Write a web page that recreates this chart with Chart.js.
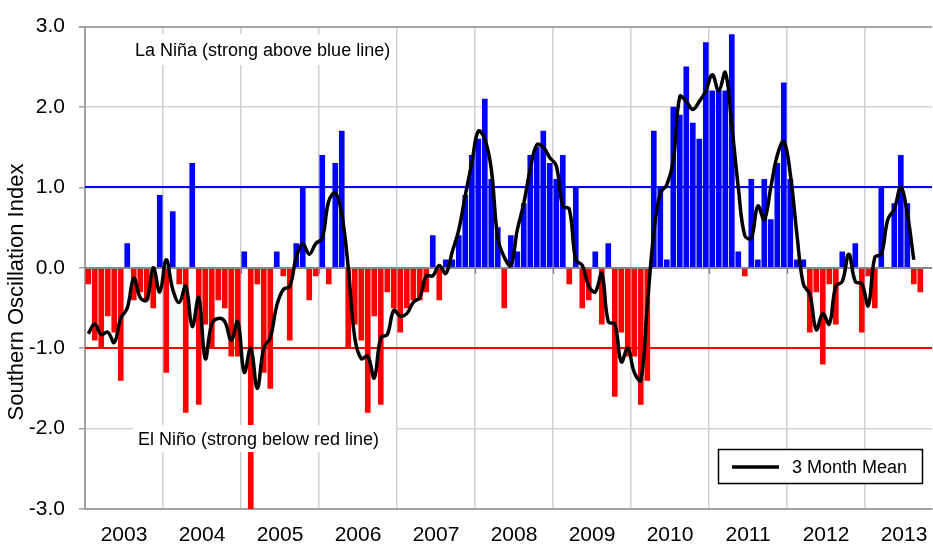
<!DOCTYPE html>
<html>
<head>
<meta charset="utf-8">
<script src="https://cdn.jsdelivr.net/npm/chart.js@4.4.1/dist/chart.umd.min.js"></script>
<style>
  html, body { margin: 0; padding: 0; background: #ffffff; }
  #wrap { width: 933px; height: 546px; }
</style>
</head>
<body>
<div id="wrap"><canvas id="c" width="933" height="546"></canvas></div>
<script>
// Year labels (one per calendar year, shown mid-year)
const years = ['2003','2004','2005','2006','2007','2008','2009','2010','2011','2012','2013'];

// Monthly Southern Oscillation Index, Jan 2003 onwards
const soi = [
  -0.2,-0.9,-1.0,-0.6,-0.8,-1.4, 0.3,-0.4,-0.3,-0.4,-0.5, 0.9,   // 2003
  -1.3, 0.7,-0.2,-1.8, 1.3,-1.7,-0.7,-1.0,-0.4,-0.5,-1.1,-1.1,   // 2004
   0.2,-3.0,-0.2,-1.3,-1.5, 0.2,-0.1,-0.9, 0.3, 1.0,-0.4,-0.1,   // 2005
   1.4,-0.2, 1.3, 1.7,-1.0,-0.7,-0.9,-1.8,-0.6,-1.7,-0.3,-0.5,   // 2006
  -0.8,-0.5,-0.4,-0.4,-0.3, 0.4,-0.4, 0.1, 0.1, 0.4, 0.9, 1.4,   // 2007
   1.6, 2.1, 1.1, 0.5,-0.5, 0.4, 0.2, 0.8, 1.4, 1.5, 1.7, 1.3,   // 2008
   1.1, 1.4,-0.2, 1.0,-0.5,-0.4, 0.2,-0.7, 0.3,-1.6,-0.8,-1.1,   // 2009
  -1.1,-1.7,-1.4, 1.7, 1.0, 0.1, 2.0, 1.9, 2.5, 1.8, 1.6, 2.8,   // 2010
   2.2, 2.2, 2.2, 2.9, 0.2,-0.1, 1.1, 0.1, 1.1, 0.6, 1.3, 2.3,   // 2011
   1.1, 0.1, 0.1,-0.8,-0.3,-1.2,-0.2,-0.7, 0.2, 0.0, 0.3,-0.8,   // 2012
  -0.1,-0.5, 1.0, 0.0, 0.8, 1.4, 0.8,-0.2,-0.3                   // 2013
];

// 3 month mean (black curve), Jan 2003 onwards
const mean3 = [
  -0.82,-0.70,-0.83,-0.80,-0.93,-0.63,-0.50,-0.13,-0.37,-0.40, 0.00,-0.30,
   0.10,-0.27,-0.43,-0.23,-0.73,-0.37,-1.13,-0.70,-0.63,-0.67,-0.90,-0.67,
  -1.30,-1.00,-1.50,-1.00,-0.87,-0.47,-0.27,-0.23, 0.13, 0.30, 0.17, 0.30,
   0.37, 0.83, 0.93, 0.67, 0.00,-0.87,-1.13,-1.10,-1.37,-0.87,-0.83,-0.53,
  -0.60,-0.57,-0.43,-0.37,-0.10,-0.10, 0.03,-0.07, 0.20, 0.47, 0.90, 1.30,
   1.70, 1.60, 1.23, 0.37, 0.13, 0.03, 0.47, 0.80, 1.23, 1.53, 1.50, 1.37,
   1.27, 0.77, 0.73, 0.10, 0.03,-0.23,-0.30,-0.07,-0.67,-0.70,-1.17,-1.00,
  -1.30,-1.40,-0.47, 0.43, 0.93, 1.03, 1.33, 2.13, 2.07, 1.97, 2.07, 2.20,
   2.40, 2.20, 2.43, 1.77, 1.00, 0.40, 0.37, 0.77, 0.60, 1.00, 1.40, 1.57,
   1.17, 0.43,-0.20,-0.33,-0.77,-0.57,-0.70,-0.23,-0.17, 0.17,-0.17,-0.20,
  -0.47, 0.13, 0.17, 0.60, 0.73, 1.00, 0.67, 0.10
];

// Threshold levels and text
const laNinaLevel = 1.0;
const elNinoLevel = -1.0;
const laNinaText = 'La Niña (strong above blue line)';
const elNinoText = 'El Niño (strong below red line)';
const legendText = '3 Month Mean';
const yTitle = 'Southern Oscillation Index';

const FONT = '"Liberation Sans", Arial, Helvetica, sans-serif';

const deco = {
  id: 'deco',
  beforeDatasetsDraw(chart) {
    const { ctx, chartArea: a, scales: { y } } = chart;
    ctx.save();
    ctx.lineWidth = 2;
    ctx.strokeStyle = '#0000ff';
    let py = Math.round(y.getPixelForValue(laNinaLevel));
    ctx.beginPath(); ctx.moveTo(a.left, py); ctx.lineTo(a.right, py); ctx.stroke();
    ctx.strokeStyle = '#ff0000';
    py = Math.round(y.getPixelForValue(elNinoLevel));
    ctx.beginPath(); ctx.moveTo(a.left, py); ctx.lineTo(a.right, py); ctx.stroke();
    ctx.restore();
  },
  afterDatasetDraw(chart, args) {
    if (args.index !== 0) return;
    const { ctx, chartArea: a, scales: { x, y } } = chart;
    const y0 = Math.round(y.getPixelForValue(0));
    ctx.save();
    ctx.strokeStyle = '#868686';
    ctx.lineWidth = 2;
    ctx.beginPath(); ctx.moveTo(a.left, y0); ctx.lineTo(a.right, y0); ctx.stroke();
    ctx.lineWidth = 1.5;
    for (let m = 12; m < x.max; m += 12) {
      const px = Math.round(x.getPixelForValue(m)) + 0.5;
      ctx.beginPath(); ctx.moveTo(px, y0); ctx.lineTo(px, y0 + 6); ctx.stroke();
    }
    ctx.restore();
  },
  afterDatasetsDraw(chart) {
    const { ctx } = chart;
    ctx.save();
    ctx.fillStyle = '#ffffff';
    ctx.fillRect(128, 34, 267, 31);
    ctx.fillRect(133, 425, 263, 27);
    ctx.fillStyle = '#000000';
    ctx.font = '18px ' + FONT;
    ctx.textBaseline = 'middle';
    ctx.textAlign = 'left';
    ctx.fillText(laNinaText, 135, 51);
    ctx.fillText(elNinoText, 138, 440);
    // Legend
    ctx.fillStyle = '#ffffff';
    ctx.fillRect(718, 449, 205, 35);
    ctx.strokeStyle = '#000000';
    ctx.lineWidth = 1.5;
    ctx.strokeRect(718.5, 449.5, 204, 34);
    ctx.lineWidth = 3.5;
    ctx.beginPath(); ctx.moveTo(732, 467); ctx.lineTo(779, 467); ctx.stroke();
    ctx.fillStyle = '#000000';
    ctx.fillText(legendText, 792, 468);
    ctx.restore();
  },
  afterDraw(chart) {
    const { ctx } = chart;
    ctx.save();
    ctx.translate(17, 292);
    ctx.rotate(-Math.PI / 2);
    ctx.font = '22px ' + FONT;
    ctx.fillStyle = '#000000';
    ctx.textAlign = 'center';
    ctx.textBaseline = 'middle';
    ctx.fillText(yTitle, 0, 0);
    ctx.restore();
  }
};

new Chart(document.getElementById('c'), {
  type: 'bar',
  data: {
    datasets: [
      {
        type: 'bar',
        data: soi.map((v, i) => ({ x: i + 0.5, y: v })),
        backgroundColor: soi.map(v => v >= 0 ? '#0000ff' : '#ff0000'),
        borderWidth: 0,
        barThickness: 5,
        grouped: false,
        order: 2
      },
      {
        type: 'line',
        data: mean3.map((v, i) => ({ x: i + 0.5, y: v })),
        borderColor: '#000000',
        borderWidth: 3.5,
        pointRadius: 0,
        tension: 0.4,
        fill: false,
        order: 1
      }
    ]
  },
  options: {
    responsive: false,
    animation: false,
    devicePixelRatio: 1,
    layout: { padding: { top: 18, right: 1, left: 0, bottom: 0 } },
    plugins: { legend: { display: false }, tooltip: { enabled: false } },
    scales: {
      x: {
        type: 'linear',
        offset: false,
        min: 0,
        max: 130.3,
        afterFit(s) { s.height = 37; s.paddingLeft = 0; s.paddingRight = 0; },
        afterBuildTicks(s) {
          const t = [];
          for (let v = 0; v <= 126; v += 6) t.push({ value: v });
          s.ticks = t;
        },
        ticks: {
          autoSkip: false,
          maxRotation: 0,
          padding: 14,
          color: '#000000',
          font: { family: FONT, size: 21 },
          callback: (v) => (v % 12 === 6) ? years[(v - 6) / 12] : ''
        },
        grid: {
          offset: false,
          drawTicks: false,
          color: (c) => (c.tick && c.tick.value % 12 === 0 && c.tick.value > 0) ? '#cfcfcf' : 'rgba(0,0,0,0)',
          lineWidth: 1.5
        },
        border: { display: true, color: '#a0a0a0', width: 2 }
      },
      y: {
        min: -3,
        max: 3,
        afterFit(s) { s.width = 85; },
        ticks: {
          stepSize: 1,
          padding: 14,
          color: '#000000',
          font: { family: FONT, size: 21 },
          callback: (v) => Number(v).toFixed(1)
        },
        grid: {
          drawTicks: true,
          tickLength: 6,
          tickColor: '#a0a0a0',
          color: (c) => {
            const v = c.tick ? c.tick.value : null;
            if (v === 3) return '#a6a6a6';
            if (v === 0 || v === -3) return 'rgba(0,0,0,0)';
            return '#d4d4d4';
          },
          lineWidth: (c) => (c.tick && c.tick.value === 3) ? 2 : 1.5
        },
        border: { display: true, color: '#a0a0a0', width: 2 }
      }
    }
  },
  plugins: [deco]
});
</script>
</body>
</html>
